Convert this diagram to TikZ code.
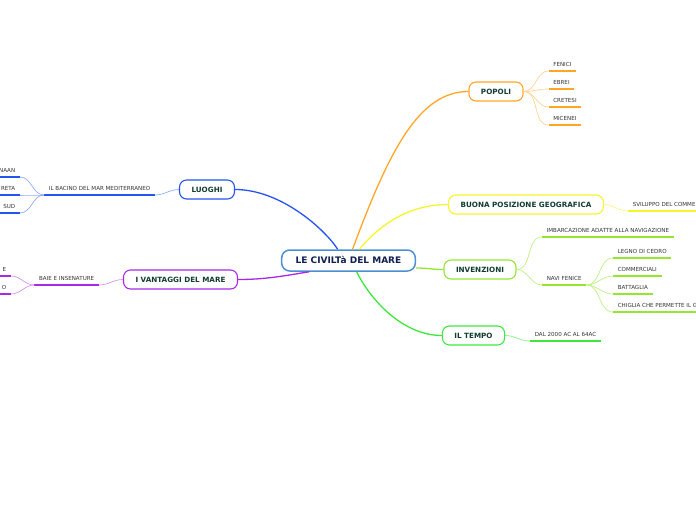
\documentclass[tikz,border=0pt]{standalone}
\usepackage{fontspec}
\setmainfont{DejaVu Sans}
\usepackage{tikz}
\usetikzlibrary{calc}
\definecolor{centerblue}{RGB}{74,144,210}
\definecolor{centertext}{RGB}{16,32,80}
\definecolor{topictext}{RGB}{18,60,48}
\definecolor{leaftext}{RGB}{51,51,51}
\definecolor{luoghiblue}{RGB}{36,84,240}
\definecolor{popoliorange}{RGB}{255,166,38}
\definecolor{posyellow}{RGB}{245,245,45}
\definecolor{invlime}{RGB}{148,230,48}
\definecolor{tempogreen}{RGB}{60,232,60}
\definecolor{vantpurple}{RGB}{168,40,232}
\tikzset{
  rootbox/.style={rectangle, rounded corners=8pt, draw=centerblue, line width=1.5pt,
    fill=white, minimum height=21pt, inner xsep=14pt, inner ysep=0pt,
    font=\fontsize{9}{10}\selectfont\bfseries, text=centertext,
    text height=6.6pt, text depth=0pt},
  topicbox/.style={rectangle, rounded corners=7pt, draw, line width=1.1pt,
    fill=white, minimum height=19pt, inner xsep=12pt, inner ysep=0pt,
    font=\fontsize{7.2}{8}\selectfont\bfseries, text=topictext,
    text height=5.3pt, text depth=0pt},
  leafR/.style={font=\fontsize{5.56}{6}\selectfont, text=leaftext,
    inner xsep=4.6pt, inner ysep=4.2pt, text height=4.1pt, text depth=0pt,
    anchor=south west},
  leafL/.style={leafR, anchor=south east},
  branch/.style={line width=1.3pt},
  twig/.style={line width=0.7pt},
  uline/.style={line width=2pt},
}
\begin{document}
\begin{tikzpicture}[x=1pt, y=-1pt]
  \clip (0,0) rectangle (696,520);
  % central topic
  \node[rootbox] (civ) at (348.5,260.5) {LE CIVILTà DEL MARE};
  \coordinate (civB) at ($(civ.north west)!0.42!(civ.north east)$);
  \coordinate (civO) at ($(civ.north west)!0.53!(civ.north east)$);
  \coordinate (civY) at ($(civ.north west)!0.58!(civ.north east)$);
  \coordinate (civG) at ($(civ.south west)!0.56!(civ.south east)$);
  \coordinate (civP) at ($(civ.south west)!0.21!(civ.south east)$);
  \coordinate (civE) at ([yshift=-7.5pt]civ.east);

  % main topics
  \node[topicbox, draw=popoliorange] (pop) at (496,91.5) {POPOLI};
  \node[topicbox, draw=posyellow] (pos) at (526,204.5) {BUONA POSIZIONE GEOGRAFICA};
  \node[topicbox, draw=invlime] (inv) at (480,269.5) {INVENZIONI};
  \node[topicbox, draw=tempogreen] (tem) at (473.5,335.5) {IL TEMPO};
  \node[topicbox, draw=luoghiblue] (luo) at (207,189.5) {LUOGHI};
  \node[topicbox, draw=vantpurple] (vant) at (180.5,279.5) {I VANTAGGI DEL MARE};

  % branches from the centre
  \draw[branch, luoghiblue] (luo.east) .. controls +(46,0) and +(-13,-20) .. (civB);
  \draw[branch, popoliorange] (civO) .. controls +(37,-100) and +(-49,0) .. (pop.west);
  \draw[branch, posyellow] (civY) .. controls +(21,-25) and +(-39,0) .. (pos.west);
  \draw[branch, invlime] (civE) .. controls +(12,0) and +(-12,0) .. (inv.west);
  \draw[branch, tempogreen] (civG) .. controls +(15,30) and +(-38,0) .. (tem.west);
  \draw[branch, vantpurple] (civP) .. controls +(-25,4) and +(28,0) .. (vant.east);

  % POPOLI
  \foreach \nm/\txt/\yy in {fen/FENICI/71, ebr/EBREI/89, cre/CRETESI/107, mic/MICENEI/125}{
    \node[leafR] (\nm) at (548.5,\yy) {\txt};
    \draw[uline, popoliorange] (\nm.south west) -- (\nm.south east);
    \draw[twig, popoliorange!50] (pop.east) to[out=0, in=180] (\nm.south west);
  }

  % BUONA POSIZIONE GEOGRAFICA
  \node[leafR] (svi) at (628,211) {SVILUPPO DEL COMME};
  \draw[uline, posyellow] (svi.south west) -- (svi.south east);
  \draw[twig, posyellow!60] (pos.east) to[out=0, in=180] (svi.south west);

  % INVENZIONI
  \node[leafR] (imb) at (542,237) {IMBARCAZIONE ADATTE ALLA NAVIGAZIONE};
  \node[leafR] (nav) at (542,285) {NAVI FENICE};
  \foreach \nm in {imb, nav}{
    \draw[uline, invlime] (\nm.south west) -- (\nm.south east);
    \draw[twig, invlime!60] (inv.east) to[out=0, in=180] (\nm.south west);
  }
  \foreach \nm/\txt/\yy in {leg/LEGNO DI CEDRO/258, com/COMMERCIALI/276,
      bat/BATTAGLIA/294, chi/CHIGLIA CHE PERMETTE IL G/312}{
    \node[leafR] (\nm) at (613,\yy) {\txt};
    \draw[uline, invlime] (\nm.south west) -- (\nm.south east);
    \draw[twig, invlime!60] (nav.south east) to[out=0, in=180] (\nm.south west);
  }

  % IL TEMPO
  \node[leafR] (dal) at (530,341) {DAL 2000 AC AL 64AC};
  \draw[uline, tempogreen] (dal.south west) -- (dal.south east);
  \draw[twig, tempogreen!60] (tem.east) to[out=0, in=180] (dal.south west);

  % LUOGHI
  \node[leafL] (bac) at (155,195) {IL BACINO DEL MAR MEDITERRANEO};
  \draw[uline, luoghiblue] (bac.south west) -- (bac.south east);
  \draw[twig, luoghiblue!50] (luo.west) to[out=180, in=0] (bac.south east);
  \foreach \nm/\txt/\yy in {naa/NAAN/177, ret/RETA/195, sud/SUD/213}{
    \node[leafL] (\nm) at (20,\yy) {\txt};
    \draw[uline, luoghiblue] (\nm.south west) -- (\nm.south east);
    \draw[twig, luoghiblue!50] (bac.south west) to[out=180, in=0] (\nm.south east);
  }

  % I VANTAGGI DEL MARE
  \node[leafL] (bai) at (99,285) {BAIE E INSENATURE};
  \draw[uline, vantpurple] (bai.south west) -- (bai.south east);
  \draw[twig, vantpurple!50] (vant.west) to[out=180, in=0] (bai.south east);
  \foreach \nm/\txt/\yy in {vae/E/276, vao/O/294}{
    \node[leafL] (\nm) at (11,\yy) {\txt};
    \draw[uline, vantpurple] (\nm.south west) -- (\nm.south east);
    \draw[twig, vantpurple!50] (bai.south west) to[out=180, in=0] (\nm.south east);
  }
\end{tikzpicture}
\end{document}
